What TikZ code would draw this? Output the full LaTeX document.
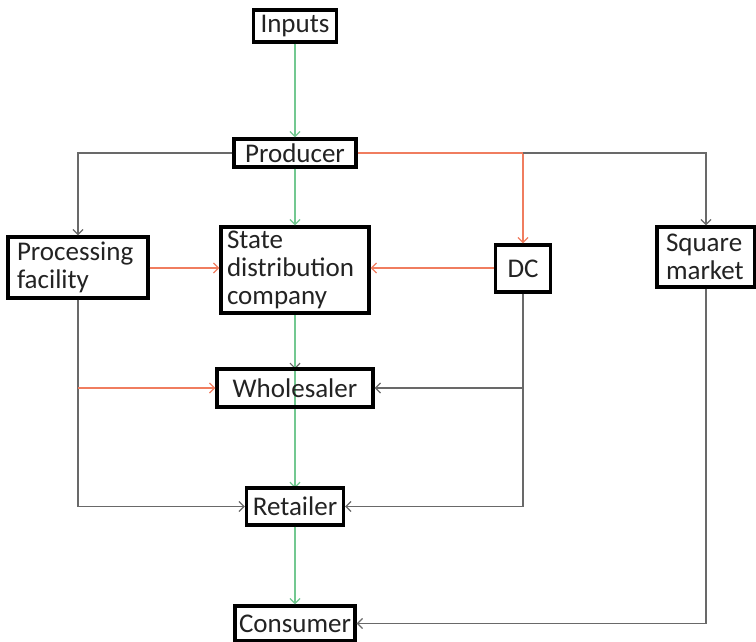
\documentclass[tikz,border=0pt]{standalone}
\usepackage{fontspec}
\setmainfont{Carlito}
\usetikzlibrary{arrows.meta}
\definecolor{lgreen}{RGB}{115,200,145}
\definecolor{lorange}{RGB}{240,125,95}
\definecolor{lgray}{RGB}{105,105,105}
\definecolor{txt}{RGB}{35,35,35}
\begin{document}
\begin{tikzpicture}[x=1pt,y=-1pt,
  box/.style={draw=black,line width=3.4pt,fill=white,inner sep=0pt,text=txt,
    font=\fontsize{27}{28}\selectfont,anchor=center},
  mbox/.style={box,align=left,inner xsep=#1},
  tip/.style={-{Straight Barb[length=5pt,width=10pt,line width=1.2pt]}},
  gl/.style={lgray,line width=1.6pt},
  ol/.style={lorange,line width=1.6pt},
  grl/.style={lgreen,line width=1.7pt}]
\useasboundingbox (0,0) rectangle (756,642);
% connectors drawn under boxes
\draw[gl,tip] (295,313) -- (295,369);
\draw[grl,tip] (295,313) -- (295,488);
% nodes
\node[box,minimum width=83,minimum height=32] (inputs) at (295,26) {Inputs};
\node[box,minimum width=122,minimum height=28] (producer) at (295,153) {Producer};
\node[mbox=9pt,text width=122,minimum width=140,minimum height=61] (proc) at (78,267.5) {Processing\\facility};
\node[mbox=6pt,text width=136,minimum width=148,minimum height=86] (sdc) at (295,270) {State\\distribution\\company};
\node[box,minimum width=55,minimum height=47] (dc) at (523,268.5) {DC};
\node[mbox=9pt,text width=80,minimum width=98,minimum height=60] (sq) at (706,257) {Square\\market};
\node[box,fill=none,minimum width=156,minimum height=38] (whole) at (295,388) {Wholesaler};
\node[box,minimum width=97,minimum height=37] (ret) at (295,506.5) {Retailer};
\node[box,minimum width=120,minimum height=35] (cons) at (295,623.5) {Consumer};
% green main chain
\draw[grl,tip] (inputs.south) -- (producer.north);
\draw[grl,tip] (producer.south) -- (sdc.north);
\draw[grl,tip] (ret.south) -- (cons.north);
% producer branches
\draw[gl,tip] (producer.west) -| (proc.north);
\draw[ol,tip] (producer.east) -| (dc.north);
\draw[gl,tip] (dc.north |- producer.east) -| (sq.north);
% into state distribution company
\draw[ol,tip] (proc.east |- 0,268) -- (sdc.west |- 0,268);
\draw[ol,tip] (dc.west |- 0,268) -- (sdc.east |- 0,268);
% processing facility down
\draw[gl,tip] (proc.south) |- (ret.west);
\draw[ol,tip] (proc.south |- whole.west) -- (whole.west);
% DC down
\draw[gl,tip] (dc.south) |- (ret.east);
\draw[gl,tip] (dc.south |- whole.east) -- (whole.east);
% square market down
\draw[gl,tip] (sq.south) |- (cons.east);
\end{tikzpicture}
\end{document}
